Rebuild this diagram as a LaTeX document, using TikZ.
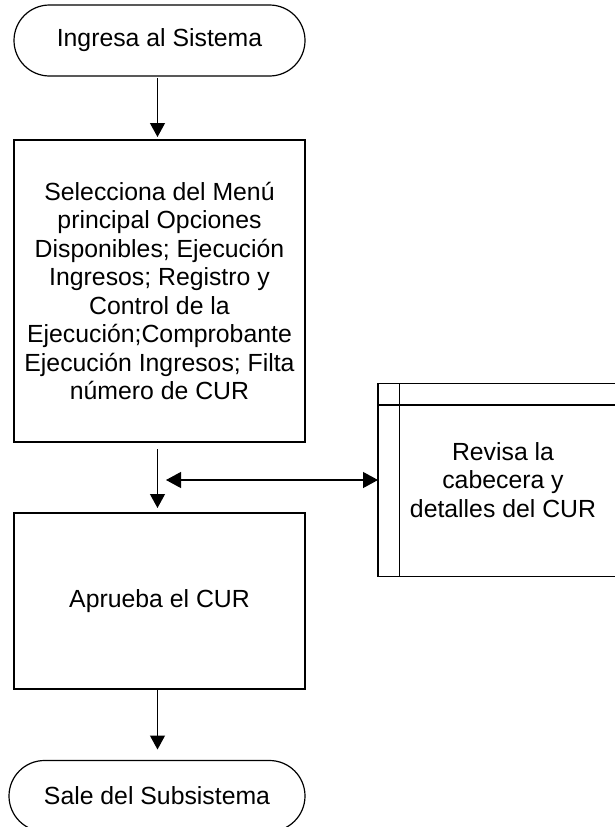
\documentclass[tikz,border=0pt]{standalone}
\usepackage{fontspec}
\setmainfont{Liberation Sans}
\usetikzlibrary{arrows.meta,calc}
\begin{document}
\begin{tikzpicture}[x=1pt,y=-1pt,
  every node/.style={font=\fontsize{24.8}{28.5}\selectfont, align=center, inner sep=0pt, outer sep=0pt},
  term/.style={draw, line width=1.2pt, rounded corners=35.5pt, minimum height=71pt},
  procbox/.style={draw, line width=1.2pt, minimum width=291pt},
  subproc/.style={draw, line width=1.2pt, minimum width=250pt, minimum height=193.4pt},
  arr/.style={line width=1.2pt, -{Triangle[length=14pt,width=15pt]}},
  darr/.style={line width=1.2pt, {Triangle[length=15pt,width=16pt]}-{Triangle[length=15pt,width=16pt]}}
]
\useasboundingbox (0,0) rectangle (615,827);
\fill[white] (0,0) rectangle (615,827);
\coordinate (ax) at (157.5,0);

\node[term, minimum width=291pt] (t1) at (159.5,40.5) {Ingresa al Sistema};
\node[procbox, minimum height=302pt] (b1) at (159.5,291)
  {Selecciona del Menú\\principal Opciones\\Disponibles; Ejecución\\Ingresos; Registro y\\Control de la\\Ejecución;Comprobante\\Ejecución Ingresos; Filta\\número de CUR};
\node[procbox, minimum height=176pt] (b2) at (159.5,601) {Aprueba el CUR};
\node[term, minimum width=296pt] (t2) at (157,796) {Sale del Subsistema};
\node[subproc] (rb) at (503,480) {Revisa la\\cabecera y\\detalles del CUR};
\draw[line width=1.2pt] ([xshift=21.7pt]rb.north west) -- ([xshift=21.7pt]rb.south west);
\draw[line width=1.2pt] ([yshift=-21.7pt]rb.north west) -- ([yshift=-21.7pt]rb.north east);

\coordinate (dl) at (166,480);

\draw[arr, shorten <=2pt, shorten >=3pt] (t1.south -| ax) -- (b1.north -| ax);
\draw[arr, shorten <=7pt, shorten >=5pt] (b1.south -| ax) -- (b2.north -| ax);
\draw[arr, shorten >=11pt] (b2.south -| ax) -- (t2.north -| ax);
\draw[darr] (dl) -- (rb.west);
\end{tikzpicture}
\end{document}
